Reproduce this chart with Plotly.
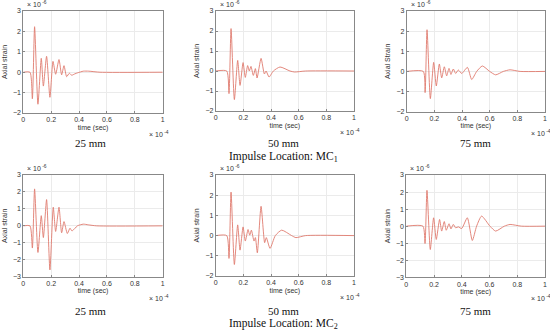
import plotly.graph_objects as go

# ---- data (time in 1e-4 s, strain in 1e-6) ----
t_mc1_25 = [0, 0.048, 0.065, 0.081, 0.105, 0.129, 0.144, 0.167, 0.191, 0.213, 0.232, 0.256, 0.275, 0.292, 0.311, 0.33, 0.347, 0.37, 0.39, 0.43, 0.47, 0.55, 1.0]
v_mc1_25 = [0, 0, -1.3, 2.23, -1.57, 0.68, -0.68, 0.78, -1.23, 0.53, -0.1, 0.62, -0.13, 0.32, -0.22, -0.05, -0.15, -0.08, -0.03, 0.05, 0.05, 0, 0]

t_mc1_50 = [0, 0.08, 0.096, 0.111, 0.135, 0.159, 0.176, 0.198, 0.214, 0.231, 0.243, 0.255, 0.272, 0.287, 0.299, 0.328, 0.352, 0.364, 0.386, 0.417, 0.465, 0.537, 0.57, 0.65, 1.0]
v_mc1_50 = [0, 0, -1.13, 2.12, -1.43, 0.53, -0.72, 0.42, -0.32, 0.27, 0.0, 0.23, -0.22, 0.12, -0.35, 0.63, -0.15, 0.0, -0.3, 0.0, 0.2, 0.0, -0.05, 0, 0]

t_mc1_75 = [0, 0.12, 0.133, 0.147, 0.171, 0.195, 0.214, 0.236, 0.253, 0.272, 0.289, 0.306, 0.32, 0.337, 0.354, 0.373, 0.398, 0.439, 0.47, 0.506, 0.547, 0.6, 0.643, 0.699, 0.747, 0.82, 1.0]
v_mc1_75 = [0, 0, -1.05, 2.07, -1.35, 0.45, -0.72, 0.37, -0.32, 0.23, -0.22, 0.15, -0.15, 0.12, -0.1, 0.07, -0.1, 0.2, -0.4, 0.0, 0.27, 0.0, -0.17, 0.0, 0.08, 0, 0]

t_mc2_25 = [0, 0.048, 0.065, 0.081, 0.105, 0.129, 0.144, 0.167, 0.191, 0.215, 0.232, 0.256, 0.275, 0.292, 0.316, 0.335, 0.349, 0.371, 0.388, 0.43, 0.466, 0.526, 1.0]
v_mc2_25 = [0, 0, -1.31, 2.18, -1.57, 0.6, -0.69, 1.55, -2.6, 1.1, -0.33, 1.1, -0.41, 0.25, -0.45, -0.14, -0.3, -0.14, 0.0, 0.1, 0.06, 0, 0]

t_mc2_50 = [0, 0.08, 0.096, 0.111, 0.135, 0.159, 0.176, 0.198, 0.214, 0.234, 0.246, 0.258, 0.277, 0.287, 0.301, 0.328, 0.354, 0.366, 0.393, 0.431, 0.477, 0.549, 0.58, 0.65, 1.0]
v_mc2_50 = [0, 0, -1.13, 2.15, -1.43, 0.53, -0.72, 0.43, -0.27, 0.3, 0.02, 0.27, -0.27, -0.1, -0.85, 1.45, -0.35, -0.1, -0.63, 0.0, 0.27, 0.0, -0.1, 0, 0]

t_mc2_75 = [0, 0.12, 0.135, 0.149, 0.173, 0.197, 0.216, 0.24, 0.255, 0.274, 0.288, 0.308, 0.322, 0.339, 0.356, 0.375, 0.399, 0.44, 0.476, 0.507, 0.543, 0.603, 0.644, 0.707, 0.748, 0.83, 1.0]
v_mc2_75 = [0, 0, -1.02, 2.1, -1.37, 0.49, -0.78, 0.39, -0.29, 0.27, -0.24, 0.14, -0.16, 0.1, -0.1, -0.04, -0.14, 0.49, -0.84, 0.0, 0.59, 0.0, -0.29, 0.0, 0.1, 0, 0]

x_ticks = [0, 0.2, 0.4, 0.6, 0.8, 1]
x_tick_text = ["0", "0.2", "0.4", "0.6", "0.8", "1"]
y_label_top = ["Axial strain", "Axial strain", "Axial Strain"]
y_label_bot = ["Axial strain", "Axial strain", "Axial strain"]
y_range_top = [[-2, 3], [-2, 3], [-2, 3]]
y_range_bot = [[-3, 3], [-2, 3], [-3, 3]]
captions = ["25 mm", "50 mm", "75 mm"]
group_titles = ["Impulse Location: MC<sub>1</sub>", "Impulse Location: MC<sub>2</sub>"]

series = [
    (t_mc1_25, v_mc1_25), (t_mc1_50, v_mc1_50), (t_mc1_75, v_mc1_75),
    (t_mc2_25, v_mc2_25), (t_mc2_50, v_mc2_50), (t_mc2_75, v_mc2_75),
]

W, H = 550, 334
# panel boxes in pixels: (left, right, top, bottom)
boxes = [
    (23.3, 162.7, 11, 113), (215.7, 354, 11, 111), (406.7, 545, 11, 111.7),
    (23.3, 162.7, 175, 276.7), (215.7, 354, 175, 276), (406.3, 545, 175, 277.3),
]
yranges = y_range_top + y_range_bot
ylabels = y_label_top + y_label_bot

fig = go.Figure()
SANS = "Liberation Sans, Arial, sans-serif"
SERIF = "Liberation Serif, Times New Roman, serif"
axfont = dict(family=SANS, size=7, color="#333")
LINE = "#e07a6e"

for i, ((t, v), (l, r, tp, bt)) in enumerate(zip(series, boxes)):
    n = i + 1
    xa = "x" if n == 1 else f"x{n}"
    ya = "y" if n == 1 else f"y{n}"
    fig.add_trace(go.Scatter(x=t, y=v, mode="lines", xaxis=xa, yaxis=ya,
                             line=dict(color=LINE, width=0.9, shape="spline", smoothing=0.6),
                             showlegend=False, hoverinfo="skip"))
    xk = "xaxis" if n == 1 else f"xaxis{n}"
    yk = "yaxis" if n == 1 else f"yaxis{n}"
    lo, hi = yranges[i]
    common = dict(showgrid=True, gridcolor="#ebebeb", gridwidth=0.8,
                  showline=True, linecolor="#888", linewidth=0.8, mirror=True,
                  ticks="inside", ticklen=2, tickcolor="#888",
                  tickfont=axfont, zeroline=False, automargin=False)
    fig.layout[xk] = dict(domain=[l / W, r / W], anchor=ya, range=[0, 1],
                          tickvals=x_ticks, ticktext=x_tick_text,
                          title=dict(text="time (sec)", font=axfont, standoff=2), **common)
    fig.layout[yk] = dict(domain=[1 - bt / H, 1 - tp / H], anchor=xa, range=[lo, hi],
                          tickvals=list(range(lo, hi + 1)),
                          title=dict(text=ylabels[i], font=axfont, standoff=4), **common)
    # exponent labels
    fig.add_annotation(x=(l + 2) / W, y=1 - (tp - 1) / H, xref="paper", yref="paper",
                       text="× 10<sup> -6</sup>", showarrow=False, xanchor="left", yanchor="bottom",
                       font=dict(family=SANS, size=7, color="#333"))
    fig.add_annotation(x=(r - 4) / W, y=1 - (bt + 15) / H, xref="paper", yref="paper",
                       text="× 10<sup> -4</sup>", showarrow=False, xanchor="center", yanchor="top",
                       font=dict(family=SANS, size=7, color="#333"))

cap_x = [90, 283, 475]
for row, ycap, ytitle in [(0, 143, 157), (1, 311, 324)]:
    for j in range(3):
        fig.add_annotation(x=cap_x[j] / W, y=1 - ycap / H, xref="paper", yref="paper",
                           text=captions[j], showarrow=False, xanchor="center", yanchor="middle",
                           font=dict(family=SERIF, size=11, color="#111"))
    fig.add_annotation(x=283 / W, y=1 - ytitle / H, xref="paper", yref="paper",
                       text=group_titles[row], showarrow=False, xanchor="center", yanchor="middle",
                       font=dict(family=SERIF, size=11.5, color="#111"))

fig.update_layout(width=W, height=H, margin=dict(l=0, r=0, t=0, b=0),
                  paper_bgcolor="white", plot_bgcolor="white")
fig.write_html("out.html", config={"displayModeBar": False},
               post_script="document.body.style.margin='0';document.body.style.overflow='hidden';")
